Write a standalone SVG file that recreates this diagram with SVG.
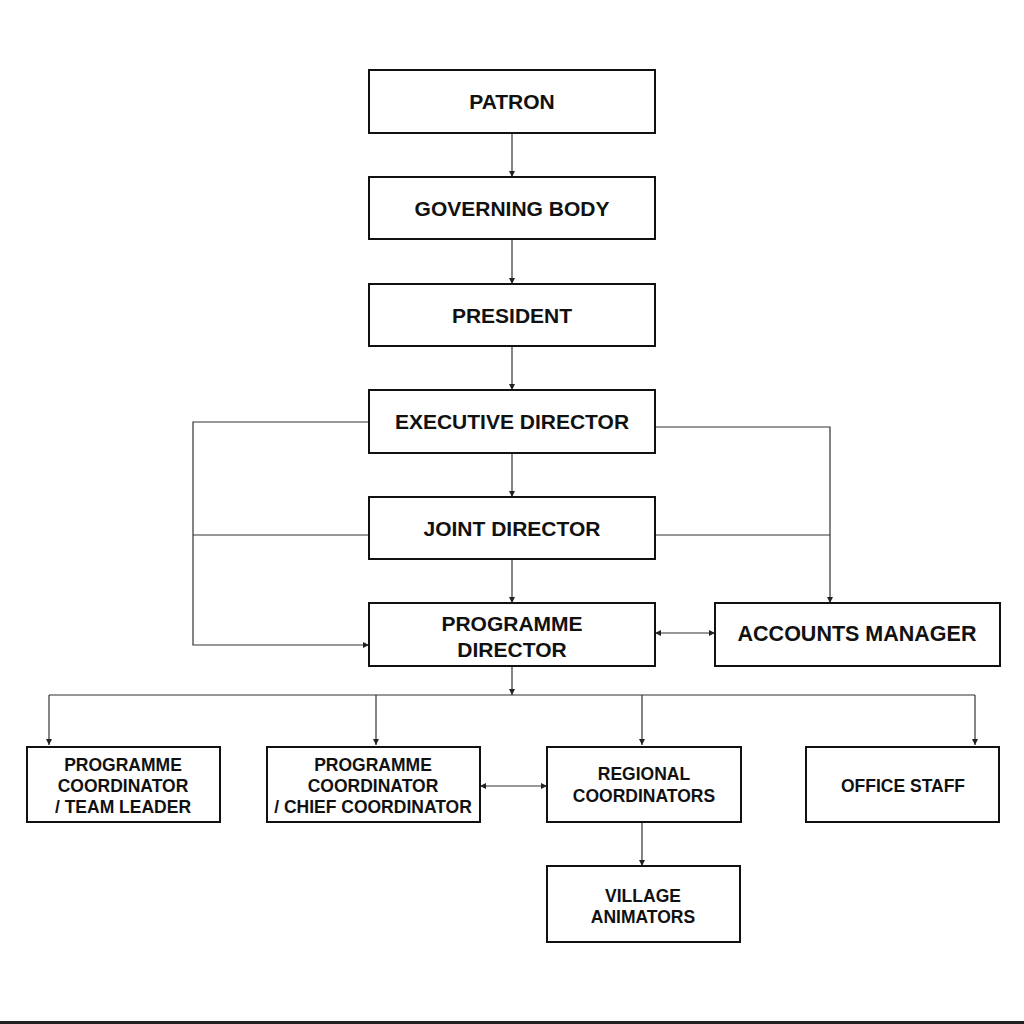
<svg xmlns="http://www.w3.org/2000/svg" width="1024" height="1024" viewBox="0 0 1024 1024">
<defs>
<marker id="ah" viewBox="0 0 10 10" refX="10" refY="5" markerWidth="8" markerHeight="6" markerUnits="userSpaceOnUse" orient="auto-start-reverse">
<path d="M0,0 L10,5 L0,10 z" fill="#222"/>
</marker>
<style>
.box{fill:#fff;stroke:#111;stroke-width:2}
.t{font-family:"Liberation Sans",Arial,sans-serif;font-weight:bold;fill:#111;text-anchor:middle}
.big{font-size:21px}
.sm{font-size:17.5px}
.ln{fill:none;stroke:#333;stroke-width:1.2}
</style>
</defs>
<rect width="1024" height="1024" fill="#fff"/>
<g id="connectors">
<line class="ln" x1="512" y1="133" x2="512" y2="177" marker-end="url(#ah)"/>
<line class="ln" x1="512" y1="239" x2="512" y2="284" marker-end="url(#ah)"/>
<line class="ln" x1="512" y1="346" x2="512" y2="390" marker-end="url(#ah)"/>
<line class="ln" x1="512" y1="453" x2="512" y2="497" marker-end="url(#ah)"/>
<line class="ln" x1="512" y1="559" x2="512" y2="603" marker-end="url(#ah)"/>
<polyline class="ln" points="369,422 193,422 193,645 369,645" marker-end="url(#ah)"/>
<line class="ln" x1="369" y1="535" x2="193" y2="535"/>
<polyline class="ln" points="655,427 830,427 830,603" marker-end="url(#ah)"/>
<line class="ln" x1="655" y1="535" x2="830" y2="535"/>
<line class="ln" x1="655" y1="633" x2="715" y2="633" marker-start="url(#ah)" marker-end="url(#ah)"/>
<line class="ln" x1="512" y1="666" x2="512" y2="695" marker-end="url(#ah)"/>
<line class="ln" x1="49" y1="695" x2="975" y2="695"/>
<line class="ln" x1="49" y1="695" x2="49" y2="745" marker-end="url(#ah)"/>
<line class="ln" x1="376" y1="695" x2="376" y2="745" marker-end="url(#ah)"/>
<line class="ln" x1="642" y1="695" x2="642" y2="745" marker-end="url(#ah)"/>
<line class="ln" x1="975" y1="695" x2="975" y2="745" marker-end="url(#ah)"/>
<line class="ln" x1="480" y1="786" x2="547" y2="786" marker-start="url(#ah)" marker-end="url(#ah)"/>
<line class="ln" x1="642" y1="822" x2="642" y2="866" marker-end="url(#ah)"/>
</g>
<g id="patron"><rect class="box" x="369" y="70" width="286" height="63"/><text class="t big" x="512" y="109">PATRON</text></g>
<g id="governing-body"><rect class="box" x="369" y="177" width="286" height="62"/><text class="t big" x="512" y="216">GOVERNING BODY</text></g>
<g id="president"><rect class="box" x="369" y="284" width="286" height="62"/><text class="t big" x="512" y="323">PRESIDENT</text></g>
<g id="executive-director"><rect class="box" x="369" y="390" width="286" height="63"/><text class="t big" x="512" y="429">EXECUTIVE DIRECTOR</text></g>
<g id="joint-director"><rect class="box" x="369" y="497" width="286" height="62"/><text class="t big" x="512" y="536">JOINT DIRECTOR</text></g>
<g id="programme-director"><rect class="box" x="369" y="603" width="286" height="63"/><text class="t big" x="512" y="631">PROGRAMME</text><text class="t big" x="512" y="657">DIRECTOR</text></g>
<g id="accounts-manager"><rect class="box" x="715" y="603" width="285" height="63"/><text class="t" style="font-size:21.5px" x="857" y="641">ACCOUNTS MANAGER</text></g>
<g id="programme-coordinator-team-leader"><rect class="box" x="27" y="747" width="193" height="75"/><text class="t sm" x="123" y="771">PROGRAMME</text><text class="t sm" x="123" y="792">COORDINATOR</text><text class="t sm" x="123" y="813">/ TEAM LEADER</text></g>
<g id="programme-coordinator-chief"><rect class="box" x="267" y="747" width="213" height="75"/><text class="t sm" x="373" y="771">PROGRAMME</text><text class="t sm" x="373" y="792">COORDINATOR</text><text class="t sm" x="373" y="813">/ CHIEF COORDINATOR</text></g>
<g id="regional-coordinators"><rect class="box" x="547" y="747" width="194" height="75"/><text class="t sm" x="644" y="780">REGIONAL</text><text class="t sm" x="644" y="802">COORDINATORS</text></g>
<g id="office-staff"><rect class="box" x="806" y="747" width="193" height="75"/><text class="t sm" x="903" y="792">OFFICE STAFF</text></g>
<g id="village-animators"><rect class="box" x="547" y="866" width="193" height="76"/><text class="t sm" x="643" y="902">VILLAGE</text><text class="t sm" x="643" y="923">ANIMATORS</text></g>
<rect x="0" y="1021" width="1024" height="3" fill="#222"/>
</svg>
